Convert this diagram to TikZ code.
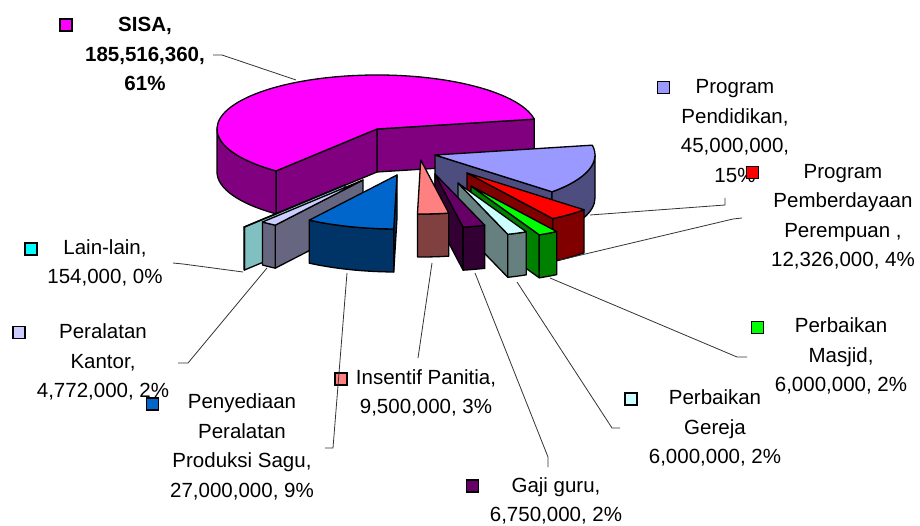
\documentclass[tikz,border=0pt]{standalone}
\usepackage{fontspec}
\setmainfont{Liberation Sans}
\definecolor{sisaT}{HTML}{FF00FF}\definecolor{sisaS}{HTML}{800080}
\definecolor{pendT}{HTML}{9999FF}\definecolor{pendS}{HTML}{4D4D80}
\definecolor{pembT}{HTML}{FF0000}\definecolor{pembS}{HTML}{800000}
\definecolor{masT}{HTML}{00FF00}\definecolor{masS}{HTML}{008000}
\definecolor{gerT}{HTML}{CCFFFF}\definecolor{gerS}{HTML}{668080}
\definecolor{gajiT}{HTML}{660066}\definecolor{gajiS}{HTML}{330033}
\definecolor{insT}{HTML}{FF8080}\definecolor{insS}{HTML}{804040}
\definecolor{saguT}{HTML}{0066CC}\definecolor{saguS}{HTML}{003366}
\definecolor{kanT}{HTML}{CCCCFF}\definecolor{kanS}{HTML}{666680}
\definecolor{lainT}{HTML}{00FFFF}\definecolor{lainS}{HTML}{80C0C0}
% #1 tip x, #2 tip y (down), #3 start angle, #4 end angle, #5 wall start, #6 wall end, #7 top, #8 side
\newcommand\pslice[8]{%
  \begin{scope}[shift={(#1,-#2)}]
    \pgfmathtruncatemacro\fva{cos(#3)>0}%
    \pgfmathtruncatemacro\fvb{cos(#4)<0}%
    \ifnum\fva=1
      \filldraw[slice, fill=#8] (0,0) -- (#3:160pt and 54pt) -- ++(0,-43pt) -- (0,-43pt) -- cycle;
    \fi
    \ifnum\fvb=1
      \filldraw[slice, fill=#8] (0,0) -- (#4:160pt and 54pt) -- ++(0,-43pt) -- (0,-43pt) -- cycle;
    \fi
    \filldraw[slice, fill=#8] (#5:160pt and 54pt) arc[start angle=#5, end angle=#6, x radius=160pt, y radius=54pt] -- ++(0,-43pt) arc[start angle=#6, end angle=#5, x radius=160pt, y radius=54pt] -- cycle;
    \filldraw[slice, fill=#7] (0,0) -- (#3:160pt and 54pt) arc[start angle=#3, end angle=#4, x radius=160pt, y radius=54pt] -- cycle;
  \end{scope}}
\tikzset{
  slice/.style={draw=black, line width=1.3pt, line join=round},
  lbl/.style={font=\fontsize{20.5}{29.5}\selectfont, align=center, inner sep=0pt},
  key/.style={draw=black, line width=1.2pt, minimum size=12pt, inner sep=0pt},
  leader/.style={draw=black!80, line width=0.8pt}
}
\begin{document}
\begin{tikzpicture}[x=1pt,y=1pt]
\useasboundingbox (0,0) rectangle (920,-526);
% slices, back to front
\pslice{377}{129}{10.5}{230.9}{180}{230.9}{sisaT}{sisaS}
\pslice{435}{155}{-42.96}{10.5}{-42.96}{0}{pendT}{pendS}
\pslice{467}{173}{-57.6}{-42.96}{-57.6}{-42.96}{pembT}{pembS}
\pslice{471}{186}{-64.73}{-57.6}{-64.73}{-57.6}{masT}{masS}
\pslice{458}{183}{-71.86}{-64.73}{-71.86}{-64.73}{gerT}{gerS}
\pslice{435}{174}{-79.88}{-71.86}{-79.88}{-71.86}{gajiT}{gajiS}
\pslice{345}{185}{-129.1}{-128.92}{-129.1}{-128.92}{lainT}{lainS}
\pslice{363}{180}{-128.92}{-123.25}{-128.92}{-123.25}{kanT}{kanS}
\pslice{397}{175}{-123.25}{-91.17}{-123.25}{-91.17}{saguT}{saguS}
\pslice{420.7}{160}{-91.17}{-79.88}{-91.17}{-79.88}{insT}{insS}
% labels
\node[lbl, font=\fontsize{20.5}{29.5}\selectfont\bfseries] (tSisa) at (145,-54) {SISA,\\185,516,360,\\61\%};
\node[lbl] (tPend) at (735,-131) {Program\\Pendidikan,\\45,000,000,\\15\%};
\node[lbl] (tPemb) at (843,-217) {Program\\Pemberdayaan\\Perempuan ,\\12,326,000, 4\%};
\node[lbl] (tMas) at (841,-356) {Perbaikan\\Masjid,\\6,000,000, 2\%};
\node[lbl] (tGer) at (715,-428) {Perbaikan\\Gereja\\6,000,000, 2\%};
\node[lbl] (tGaji) at (556,-501) {Gaji guru,\\6,750,000, 2\%};
\node[lbl] (tIns) at (426,-393) {Insentif Panitia,\\9,500,000, 3\%};
\node[lbl] (tSagu) at (242,-447) {Penyediaan\\Peralatan\\Produksi Sagu,\\27,000,000, 9\%};
\node[lbl] (tKan) at (103,-362) {Peralatan\\Kantor,\\4,772,000, 2\%};
\node[lbl] (tLain) at (105,-263) {Lain-lain,\\154,000, 0\%};
% legend keys
\node[key, fill=sisaT] (kSisa) at (66,-25) {};
\node[key, fill=pendT] (kPend) at (663.5,-87.5) {};
\node[key, fill=pembT] (kPemb) at (752.5,-172.5) {};
\node[key, fill=masT] (kMas) at (757.5,-327.5) {};
\node[key, fill=gerT] (kGer) at (631,-399) {};
\node[key, fill=gajiT] (kGaji) at (472.5,-486) {};
\node[key, fill=insT] (kIns) at (341,-379) {};
\node[key, fill=saguT] (kSagu) at (152.5,-404) {};
\node[key, fill=kanT] (kKan) at (19,-332.5) {};
\node[key, fill=lainT] (kLain) at (31,-249) {};
% leader lines
\coordinate (pSisa) at (296,-80); \coordinate (bSisa) at (222,-55); \coordinate (eSisa) at (213,-55);
\coordinate (pPend) at (590,-215); \coordinate (bPend) at (725,-205); \coordinate (ePend) at (725,-198);
\coordinate (pPemb) at (560,-260); \coordinate (bPemb) at (733,-219); \coordinate (ePemb) at (742,-218);
\coordinate (pMas) at (550,-278); \coordinate (bMas) at (737,-357); \coordinate (eMas) at (747,-357);
\coordinate (pGer) at (517,-282); \coordinate (bGer) at (612,-428); \coordinate (eGer) at (620,-428);
\coordinate (pGaji) at (475,-273); \coordinate (bGaji) at (548,-457); \coordinate (eGaji) at (548,-467);
\coordinate (pIns) at (432,-263); \coordinate (eIns) at (418,-358);
\coordinate (pSagu) at (347,-273); \coordinate (bSagu) at (333,-448); \coordinate (eSagu) at (325,-448);
\coordinate (pKan) at (267,-268); \coordinate (bKan) at (188,-363); \coordinate (eKan) at (178,-363);
\coordinate (pLain) at (243,-272); \coordinate (bLain) at (183,-264); \coordinate (eLain) at (173,-263);
\draw[leader] (pSisa) -- (bSisa) -- (eSisa);
\draw[leader] (pPend) -- (bPend) -- (ePend);
\draw[leader] (pPemb) -- (bPemb) -- (ePemb);
\draw[leader] (pMas) -- (bMas) -- (eMas);
\draw[leader] (pGer) -- (bGer) -- (eGer);
\draw[leader] (pGaji) -- (bGaji) -- (eGaji);
\draw[leader] (pIns) -- (eIns);
\draw[leader] (pSagu) -- (bSagu) -- (eSagu);
\draw[leader] (pKan) -- (bKan) -- (eKan);
\draw[leader] (pLain) -- (bLain) -- (eLain);
\end{tikzpicture}
\end{document}
